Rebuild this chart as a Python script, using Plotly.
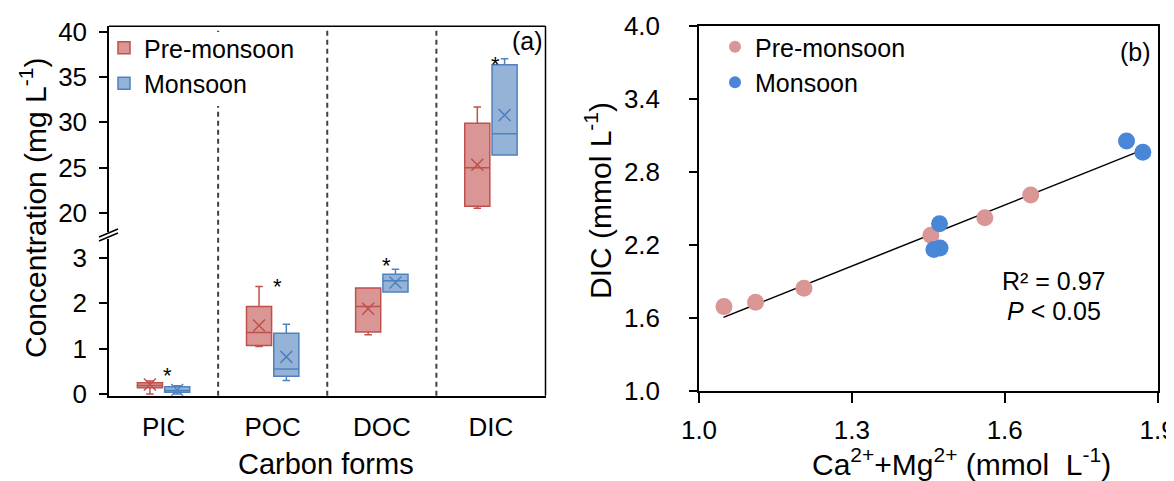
import plotly.graph_objects as go

W, H = 1174, 481

# ---------------- data: panel (a) box statistics (mg L-1) ----------------
categories = ["PIC", "POC", "DOC", "DIC"]
pre_low = [0.00, 1.05, 1.31, 20.5]
pre_q1 = [0.14, 1.07, 1.37, 20.7]
pre_median = [0.19, 1.36, 1.93, 24.96]
pre_q3 = [0.25, 1.93, 2.34, 29.9]
pre_high = [0.29, 2.37, 2.34, 31.7]
pre_mean = [0.21, 1.51, 1.88, 25.3]

mon_low = [0.00, 0.30, 2.25, 26.37]
mon_q1 = [0.04, 0.39, 2.25, 26.37]
mon_median = [0.08, 0.55, 2.50, 28.74]
mon_q3 = [0.16, 1.34, 2.64, 36.37]
mon_high = [0.18, 1.54, 2.75, 37.04]
mon_mean = [0.09, 0.82, 2.46, 30.8]

sig_y = [0.49, 2.47, 2.93, 36.86]   # asterisk heights

# ---------------- data: panel (b) ----------------
pre_camg = [1.049, 1.111, 1.206, 1.455, 1.561, 1.651]
pre_dic = [1.696, 1.731, 1.847, 2.282, 2.427, 2.613]
mon_camg = [1.461, 1.473, 1.472, 1.839, 1.871]
mon_dic = [2.165, 2.178, 2.378, 3.057, 2.964]
fit_x = [1.048, 1.872]
fit_y = [1.608, 2.986]

FONT = "Liberation Sans, Arial, sans-serif"
PRE_LINE, PRE_FILL = "#C0504D", "rgba(192,80,77,0.6)"
MON_LINE, MON_FILL = "#4F81BD", "rgba(79,129,189,0.6)"
PRE_DOT, MON_DOT = "#DA9694", "#4A86D8"


def px(x):
    return x / W


def py(y):
    return 1 - y / H


# panel geometry (pixels)
AL, AR, AT, AB = 101, 537.5, 18.3, 387.7
UP_BOT, LO_TOP = 224, 231
BL, BR, BT, BB = 691, 1149.6, 18.3, 383.3

fig = go.Figure()

OFF = 0.125
BOXW = 0.23
lower_idx = [0, 1, 2]
upper_idx = [3]


def add_boxes(idx, yaxis, show):
    for name, off, lc, fc, lo, q1, md, q3, hi, mn in [
        ("Pre-monsoon", -OFF, PRE_LINE, PRE_FILL, pre_low, pre_q1, pre_median, pre_q3, pre_high, pre_mean),
        ("Monsoon", OFF, MON_LINE, MON_FILL, mon_low, mon_q1, mon_median, mon_q3, mon_high, mon_mean),
    ]:
        xs = [i + off for i in idx]
        fig.add_trace(go.Box(
            x=xs, q1=[q1[i] for i in idx], median=[md[i] for i in idx],
            q3=[q3[i] for i in idx], lowerfence=[lo[i] for i in idx],
            upperfence=[hi[i] for i in idx], width=BOXW, whiskerwidth=0.3,
            boxpoints=False, line=dict(color=lc, width=1.5), fillcolor=fc,
            name=name, showlegend=show, legend="legend", legendgroup=name,
            xaxis="x", yaxis=yaxis, hoverinfo="skip"))
        fig.add_trace(go.Scatter(
            x=xs, y=[mn[i] for i in idx], mode="markers",
            marker=dict(symbol="x-thin", size=12, line=dict(color=lc, width=1.5)),
            showlegend=False, xaxis="x", yaxis=yaxis, hoverinfo="skip"))


add_boxes(lower_idx, "y", True)
add_boxes(upper_idx, "y2", False)

# panel (b)
fig.add_trace(go.Scatter(x=fit_x, y=fit_y, mode="lines", line=dict(color="black", width=1.5),
                         showlegend=False, xaxis="x2", yaxis="y3", hoverinfo="skip"))
fig.add_trace(go.Scatter(x=pre_camg, y=pre_dic, mode="markers", name="Pre-monsoon",
                         marker=dict(size=17, color=PRE_DOT), legend="legend2",
                         xaxis="x2", yaxis="y3"))
fig.add_trace(go.Scatter(x=mon_camg, y=mon_dic, mode="markers", name="Monsoon",
                         marker=dict(size=17, color=MON_DOT), legend="legend2",
                         xaxis="x2", yaxis="y3"))

tickfont = dict(family=FONT, size=26, color="black")
axcommon = dict(showgrid=False, zeroline=False, showline=True, linecolor="black",
                linewidth=1.5, tickfont=tickfont, automargin=False)

shapes = []
# dashed separators
for s in [0.5, 1.5, 2.5]:
    shapes.append(dict(type="line", xref="x", yref="paper", x0=s, x1=s, y0=py(AB), y1=py(AT),
                       line=dict(color="#404040", width=2, dash="5px,4px"), layer="below"))
# white patch behind the legend of panel (a)
shapes.append(dict(type="rect", xref="paper", yref="paper", x0=px(103), x1=px(300),
                   y0=py(98), y1=py(24), fillcolor="white", line=dict(width=0), layer="below"))
# top and right frame of panel (a)
shapes.append(dict(type="line", xref="paper", yref="paper", x0=px(AL), x1=px(AR), y0=py(AT), y1=py(AT),
                   line=dict(color="black", width=1.5)))
shapes.append(dict(type="line", xref="paper", yref="paper", x0=px(AR), x1=px(AR), y0=py(AT), y1=py(AB),
                   line=dict(color="black", width=1.5)))
# axis break marks
for d in [0, 4]:
    shapes.append(dict(type="line", xref="paper", yref="paper",
                       x0=px(91), x1=px(110), y0=py(231 + d - 2), y1=py(223 + d - 2),
                       line=dict(color="black", width=1.5)))

ann = []
for i, c in enumerate(categories):
    ann.append(dict(x=i + 0.04, y=sig_y[i], xref="x", yref="y2" if i == 3 else "y",
                    text="*", showarrow=False, yshift=-4, xanchor="center", yanchor="middle",
                    font=dict(family=FONT, size=22, color="black")))
big = dict(family=FONT, size=25, color="black")
title_font = dict(family=FONT, size=30, color="black")


def pann(x, y, text, font, **kw):
    d = dict(x=px(x), y=py(y), xref="paper", yref="paper", text=text, showarrow=False,
             xanchor="center", yanchor="middle", font=font)
    d.update(kw)
    return d


ann += [
    pann(519, 33, "(a)", big),
    pann(1127.6, 44, "(b)", big),
    pann(992, 273, "R² = 0.97", dict(family=FONT, size=25, color="black"), xanchor="left"),
    pann(997, 303, "<i>P</i> &lt; 0.05", dict(family=FONT, size=25, color="black"), xanchor="left"),
    pann(25, 200, "Concentration (mg L<sup>-1</sup>)", title_font, textangle=-90),
    pann(318, 456, "Carbon forms", dict(family=FONT, size=29, color="black")),
    pann(590, 192, "DIC (mmol L<sup>-1</sup>)", title_font, textangle=-90),
    pann(953, 454, "Ca<sup>2+</sup>+Mg<sup>2+</sup> (mmol  L<sup>-1</sup>)", title_font),
]

fig.update_layout(
    template="none", width=W, height=H,
    margin=dict(l=0, r=0, t=0, b=0),
    paper_bgcolor="white", plot_bgcolor="white",
    font=dict(family=FONT, color="black"),
    boxmode="overlay",
    xaxis=dict(domain=[px(AL), px(AR)], range=[-0.5, 3.5], tickvals=[0, 1, 2, 3],
               ticktext=categories, ticks="", anchor="y", ticklabelstandoff=7, **axcommon),
    yaxis=dict(domain=[py(AB), py(LO_TOP)], range=[-0.037, 3.42], tickvals=[0, 1, 2, 3],
               ticks="outside", ticklen=8, tickwidth=1.5, tickcolor="black", anchor="x",
               ticklabelstandoff=7, **axcommon),
    yaxis2=dict(domain=[py(UP_BOT), py(AT)], range=[17.86, 40.63], tickvals=[20, 25, 30, 35, 40],
                ticks="outside", ticklen=8, tickwidth=1.5, tickcolor="black", anchor="x",
                ticklabelstandoff=7, **axcommon),
    xaxis2=dict(domain=[px(BL), px(BR)], range=[1.0, 1.9], tickvals=[1.0, 1.3, 1.6, 1.9],
                tickformat=".1f", ticks="outside", ticklen=10, tickwidth=1.5, tickcolor="black",
                anchor="y3", mirror=True, ticklabelstandoff=5, **axcommon),
    yaxis3=dict(domain=[py(BB), py(BT)], range=[1.0, 4.0], tickvals=[1.0, 1.6, 2.2, 2.8, 3.4, 4.0],
                tickformat=".1f", ticks="outside", ticklen=8, tickwidth=1.5, tickcolor="black",
                anchor="x2", mirror=True, ticklabelstandoff=24, **axcommon),
    legend=dict(x=px(96), y=py(17), xanchor="left", yanchor="top", bgcolor="rgba(0,0,0,0)",
                font=dict(family=FONT, size=25, color="black"), tracegroupgap=0),
    legend2=dict(x=px(707), y=py(16), xanchor="left", yanchor="top", bgcolor="rgba(0,0,0,0)",
                 font=dict(family=FONT, size=25, color="black"), itemsizing="constant"),
    shapes=shapes, annotations=ann, showlegend=True,
)

fig.write_html("out.html")
